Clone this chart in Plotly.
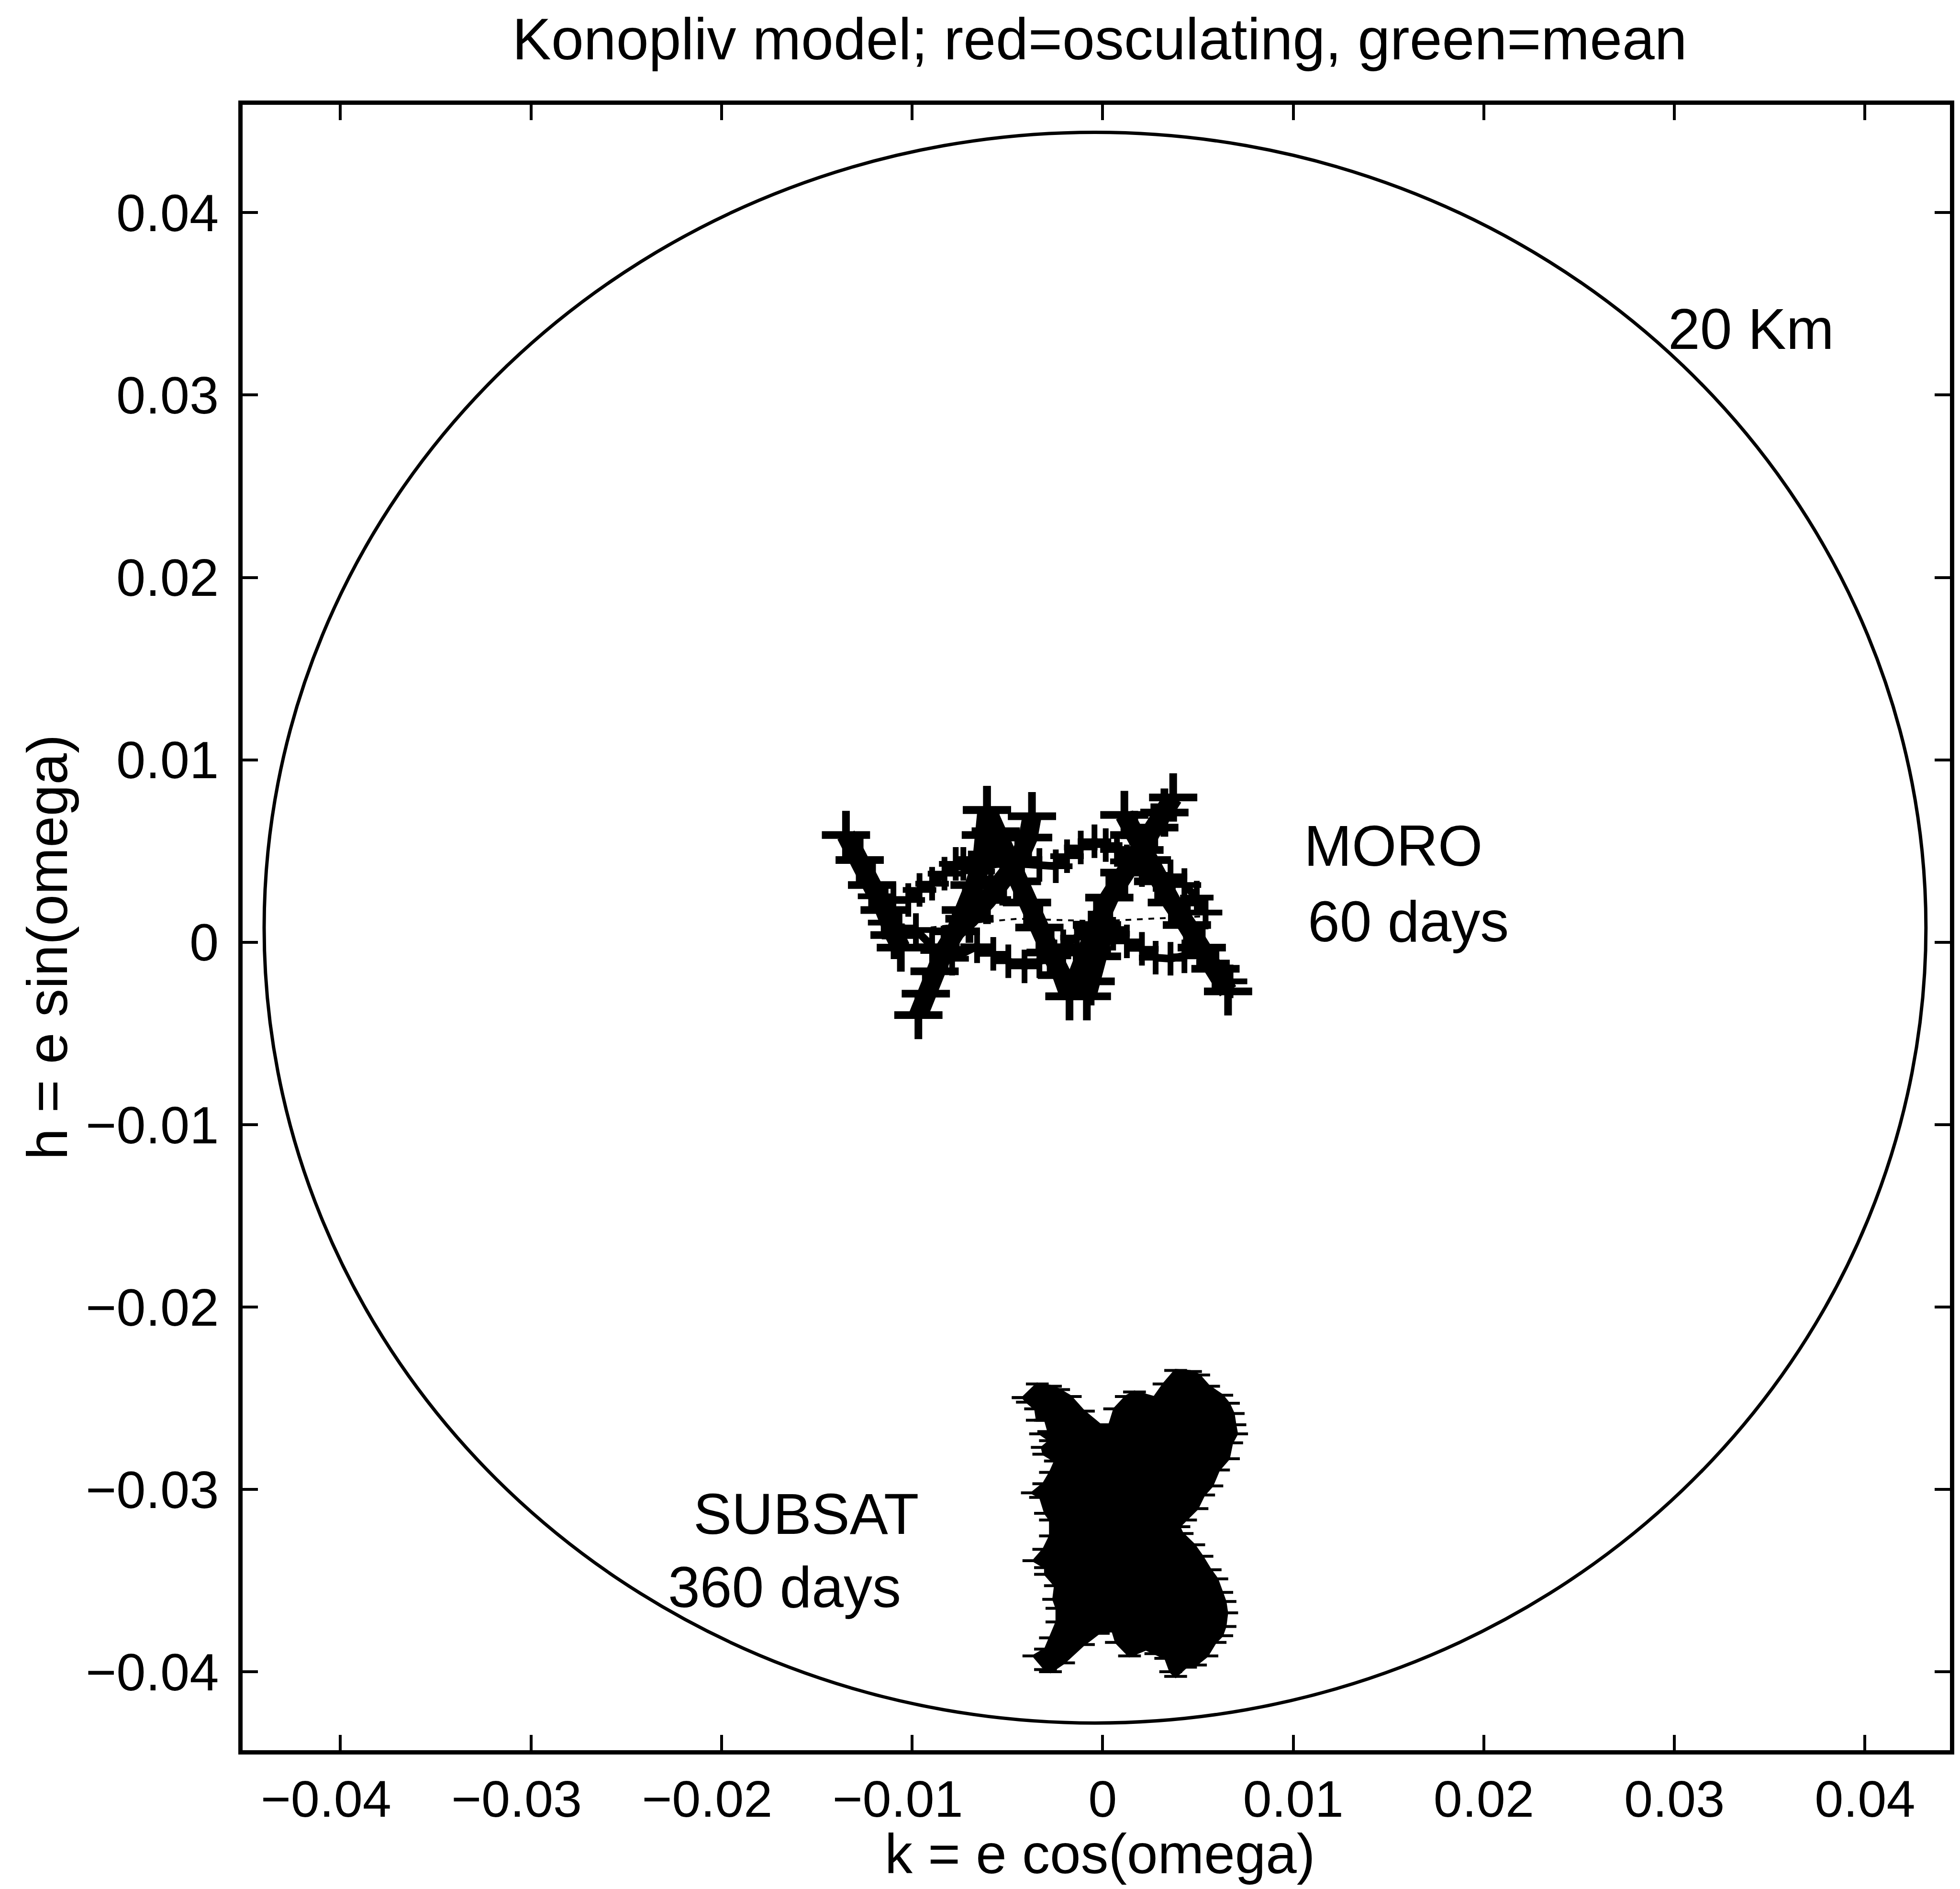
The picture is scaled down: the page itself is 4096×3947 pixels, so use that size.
import plotly.graph_objects as go

# ---------------- data ----------------
title_text = "Konopliv model; red=osculating, green=mean"
x_title = "k = e cos(omega)"
y_title = "h = e sin(omega)"

tick_vals = [-0.04, -0.03, -0.02, -0.01, 0, 0.01, 0.02, 0.03, 0.04]
tick_text = ["\u22120.04", "\u22120.03", "\u22120.02", "\u22120.01", "0",
             "0.01", "0.02", "0.03", "0.04"]

x_range = [-0.04513, 0.04446]
y_range = [-0.04429, 0.04591]

# 20 km eccentricity circle
circle_cx = -0.0004
circle_cy = 0.0008
circle_r = 0.0436

# MORO, 60 days: osculating arms (segments separated by None)
moro_arm_x = [-0.01347, -0.01275, -0.01210, -0.01144, -0.01092, -0.01059, None,
              -0.00967, -0.00928, -0.00882, -0.00830, -0.00771, -0.00718, -0.00672, -0.00633, -0.00613, -0.00607, None,
              -0.00607, -0.00561, -0.00502, -0.00450, -0.00397, -0.00332, -0.00273, -0.00214, -0.00174, None,
              -0.00371, -0.00391, -0.00443, -0.00522, -0.00607, -0.00699, -0.00771, None,
              -0.00174, -0.00135, -0.00083, -0.00030, 0.00035, 0.00114, 0.00193, 0.00271, 0.00324, 0.00370, None,
              0.00114, 0.00166, 0.00232, 0.00291, 0.00363, 0.00442, 0.00520, 0.00592, 0.00658, None,
              0.00009, -0.00030, -0.00063, -0.00083]
moro_arm_y = [0.00588, 0.00451, 0.00314, 0.00177, 0.00040, -0.00029, None,
              -0.00399, -0.00282, -0.00159, -0.00042, 0.00060, 0.00177, 0.00314, 0.00451, 0.00588, 0.00725, None,
              0.00725, 0.00609, 0.00472, 0.00334, 0.00218, 0.00081, -0.00056, -0.00180, -0.00296, None,
              0.00691, 0.00574, 0.00451, 0.00334, 0.00232, 0.00129, 0.00060, None,
              -0.00296, -0.00180, -0.00042, 0.00095, 0.00245, 0.00382, 0.00506, 0.00629, 0.00711, 0.00794, None,
              0.00698, 0.00588, 0.00451, 0.00334, 0.00218, 0.00095, -0.00029, -0.00145, -0.00269, None,
              0.00067, -0.00077, -0.00214, -0.00296]

# MORO: upper and lower wavy bands
moro_band_x = [-0.01197, -0.01098, -0.01020, -0.00961, -0.00895, -0.00830, -0.00771, -0.00731, -0.00692,
               -0.00653, -0.00587, -0.00509, -0.00423, -0.00332, -0.00246, -0.00187, -0.00115, -0.00043,
               0.00016, 0.00075, 0.00127, 0.00206, 0.00278, 0.00356, 0.00429, 0.00494, 0.00540, None,
               -0.01144, -0.01066, -0.00980, -0.00895, -0.00790, -0.00659, -0.00574, -0.00495, -0.00410,
               -0.00332, -0.00253, -0.00207, -0.00135, -0.00063, 0.00009, 0.00055, 0.00127, 0.00206,
               0.00278, 0.00356, 0.00429, 0.00507, 0.00579, 0.00671]
moro_band_y = [0.00252, 0.00232, 0.00232, 0.00287, 0.00321, 0.00376, 0.00430, 0.00430, 0.00410,
               0.00389, 0.00424, 0.00437, 0.00430, 0.00424, 0.00417, 0.00472, 0.00520, 0.00554,
               0.00533, 0.00506, 0.00444, 0.00396, 0.00369, 0.00362, 0.00314, 0.00245, 0.00163, None,
               0.00108, 0.00081, 0.00067, -0.00022, -0.00090, -0.00022, -0.00063, -0.00104, -0.00132,
               -0.00104, -0.00077, -0.00022, 0.00026, 0.00081, 0.00067, 0.00047, 0.00005, -0.00036,
               -0.00084, -0.00090, -0.00077, -0.00056, -0.00111, -0.00214]

# MORO: mean curve
moro_mean_x = [-0.00902, -0.00672, -0.00443, -0.00214, -0.00017, 0.00245, 0.00540]
moro_mean_y = [0.00081, 0.00108, 0.00129, 0.00122, 0.00115, 0.00129, 0.00143]

# SUBSAT, 360 days: outline of the dense filled region
subsat_x = [-0.00417, -0.00343, -0.00274, -0.00231, -0.00170, -0.00101, -0.00015, 0.00037, 0.00063, 0.00124,
            0.00167, 0.00271, 0.00322, 0.00383, 0.00461, 0.00504, 0.00556, 0.00625, 0.00660, 0.00685,
            0.00694, 0.00703, 0.00677, 0.00660, 0.00608, 0.00573, 0.00530, 0.00495, 0.00435, 0.00400,
            0.00417, 0.00478, 0.00521, 0.00564, 0.00599, 0.00625, 0.00642, 0.00651, 0.00642, 0.00625,
            0.00590, 0.00547, 0.00487, 0.00435, 0.00383, 0.00357, 0.00331, 0.00279, 0.00227, 0.00141,
            0.00072, 0.00054, 0.00020, -0.00023, -0.00101, -0.00205, -0.00274, -0.00300, -0.00361, -0.00300,
            -0.00274, -0.00240, -0.00240, -0.00257, -0.00248, -0.00300, -0.00300, -0.00361, -0.00309, -0.00274,
            -0.00274, -0.00300, -0.00326, -0.00369, -0.00309, -0.00274, -0.00248, -0.00309, -0.00317, -0.00274,
            -0.00326, -0.00283, -0.00300, -0.00343, -0.00352, -0.00395]
subsat_y = [-0.02496, -0.02421, -0.02434, -0.02452, -0.02490, -0.02570, -0.02645, -0.02645, -0.02558, -0.02490,
            -0.02465, -0.02496, -0.02421, -0.02347, -0.02353, -0.02372, -0.02434, -0.02483, -0.02527, -0.02583,
            -0.02645, -0.02695, -0.02744, -0.02831, -0.02893, -0.02980, -0.03030, -0.03105, -0.03167, -0.03204,
            -0.03241, -0.03303, -0.03366, -0.03440, -0.03490, -0.03564, -0.03614, -0.03676, -0.03751, -0.03801,
            -0.03838, -0.03912, -0.03962, -0.03974, -0.04024, -0.03999, -0.03925, -0.03900, -0.03875, -0.03912,
            -0.03838, -0.03776, -0.03769, -0.03788, -0.03850, -0.03950, -0.03999, -0.03987, -0.03912, -0.03875,
            -0.03813, -0.03726, -0.03651, -0.03602, -0.03527, -0.03465, -0.03428, -0.03390, -0.03328, -0.03254,
            -0.03167, -0.03130, -0.03043, -0.03018, -0.02968, -0.02906, -0.02844, -0.02806, -0.02769, -0.02732,
            -0.02695, -0.02682, -0.02620, -0.02620, -0.02558, -0.02521]

# text labels: (text, x, y)
label_texts = ["20 Km", "MORO", "60 days", "SUBSAT", "360 days"]
label_x = [0.02961, 0.01051, 0.01071, -0.02152, -0.02286]
label_y = [0.03364, 0.00530, 0.00115, -0.03134, -0.03535]

# ---------------- figure ----------------
FONT = "Liberation Sans, Arial, Helvetica, sans-serif"
INK = "black"

fig = go.Figure()

fig.add_trace(go.Scatter(
    x=subsat_x + [subsat_x[0]], y=subsat_y + [subsat_y[0]],
    mode="lines+markers", fill="toself", fillcolor=INK,
    line=dict(color=INK, width=6),
    marker=dict(symbol="line-ew", size=34, line=dict(color=INK, width=6)),
    hoverinfo="skip", showlegend=False))

fig.add_trace(go.Scatter(
    x=moro_mean_x, y=moro_mean_y, mode="lines",
    line=dict(color=INK, width=4, dash="dash"), showlegend=False))

fig.add_trace(go.Scatter(
    x=moro_band_x, y=moro_band_y, mode="lines+markers",
    line=dict(color=INK, width=16),
    marker=dict(symbol="cross-thin", size=50, line=dict(color=INK, width=12)),
    showlegend=False))

fig.add_trace(go.Scatter(
    x=moro_arm_x, y=moro_arm_y, mode="lines+markers",
    line=dict(color=INK, width=40),
    marker=dict(symbol="cross-thin", size=72, line=dict(color=INK, width=16)),
    showlegend=False))

fig.add_shape(type="circle", xref="x", yref="y",
              x0=circle_cx - circle_r, x1=circle_cx + circle_r,
              y0=circle_cy - circle_r, y1=circle_cy + circle_r,
              line=dict(color=INK, width=7), layer="above")

for t, lx, ly in zip(label_texts, label_x, label_y):
    fig.add_annotation(x=lx, y=ly, xref="x", yref="y", text=t, showarrow=False,
                       xanchor="left", yanchor="middle",
                       font=dict(family=FONT, size=120, color=INK))

# y tick labels, right-aligned next to the frame
for v, t in zip(tick_vals, tick_text):
    fig.add_annotation(x=-0.0135, y=v, xref="paper", yref="y", text=t, showarrow=False,
                       xanchor="right", yanchor="middle",
                       font=dict(family=FONT, size=110, color=INK))

# x tick labels: the number part is centred on the tick, the minus hangs left
x_tick_text = [t + "\u2007" if t.startswith("\u2212") else t for t in tick_text]

fig.add_annotation(x=0.502, y=-0.0631, xref="paper", yref="paper", text=x_title,
                   showarrow=False, xanchor="center", yanchor="middle",
                   font=dict(family=FONT, size=116, color=INK))
fig.add_annotation(x=-0.1143, y=0.488, xref="paper", yref="paper", text=y_title,
                   showarrow=False, xanchor="center", yanchor="middle", textangle=-90,
                   font=dict(family=FONT, size=118, color=INK))

axis_common = dict(
    showgrid=False, zeroline=False, showline=True, linewidth=9, linecolor=INK,
    mirror="ticks", ticks="inside", ticklen=32, tickwidth=6, tickcolor=INK,
    tickvals=tick_vals,
    tickfont=dict(family=FONT, size=108, color=INK),
)

fig.update_layout(
    width=4096, height=3947,
    margin=dict(l=507, r=19, t=219, b=290),
    paper_bgcolor="white", plot_bgcolor="white",
    title=dict(text=title_text, x=0.502, xref="paper", xanchor="center",
               y=1 - 81 / 3947, yref="container", yanchor="middle",
               font=dict(family=FONT, size=122, color=INK)),
    xaxis=dict(range=x_range, ticklabelstandoff=0, ticktext=x_tick_text, **axis_common),
    yaxis=dict(range=y_range, showticklabels=False, ticktext=tick_text, **axis_common),
    showlegend=False,
)

fig.write_html("out.html", config={"displayModeBar": False},
               post_script="document.body.style.margin='0';document.body.style.overflow='hidden';")
